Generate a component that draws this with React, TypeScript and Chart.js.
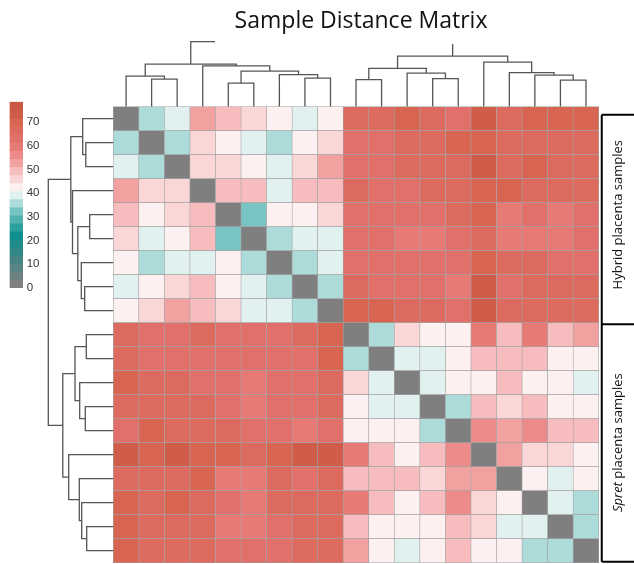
import { useEffect, useRef } from 'react';
import { Chart, registerables } from 'chart.js';

Chart.register(...registerables);

// ---------------- data ----------------
const TITLE = 'Sample Distance Matrix';
const groupLabels = ['Hybrid placenta samples', 'Spret placenta samples'];
const groupItalicPrefix = ['', 'Spret'];
const groupSizes = [9, 10];

// distances among hybrid samples (display order)
const hybridBlock = [
  [0, 36, 39, 53, 50, 46, 43, 39, 43],
  [36, 0, 36, 46, 43, 39, 36, 43, 46],
  [39, 36, 0, 46, 46, 43, 39, 46, 53],
  [53, 46, 46, 0, 50, 50, 39, 50, 50],
  [50, 43, 46, 50, 0, 32, 43, 43, 46],
  [46, 39, 43, 50, 32, 0, 36, 39, 39],
  [43, 36, 39, 39, 43, 36, 0, 36, 39],
  [39, 43, 46, 50, 43, 39, 36, 0, 36],
  [43, 46, 53, 50, 46, 39, 39, 36, 0],
];

// distances hybrid (rows) x spret (columns)
const crossBlock = [
  [66, 66, 70, 66, 63, 73, 66, 70, 70, 70],
  [63, 63, 66, 66, 70, 70, 66, 66, 66, 66],
  [63, 63, 66, 66, 66, 73, 66, 70, 66, 66],
  [66, 63, 63, 66, 66, 70, 70, 66, 66, 66],
  [63, 63, 63, 63, 66, 70, 60, 63, 60, 63],
  [63, 63, 60, 60, 63, 66, 60, 60, 60, 63],
  [63, 63, 63, 63, 63, 70, 66, 66, 63, 63],
  [66, 63, 63, 63, 60, 73, 63, 66, 66, 66],
  [70, 70, 66, 66, 63, 73, 66, 66, 66, 66],
];

// distances among spret samples
const spretBlock = [
  [0, 36, 46, 43, 43, 60, 50, 60, 50, 53],
  [36, 0, 39, 39, 43, 50, 50, 50, 43, 43],
  [46, 39, 0, 39, 43, 43, 50, 43, 43, 39],
  [43, 39, 39, 0, 36, 50, 46, 50, 43, 43],
  [43, 43, 43, 36, 0, 56, 53, 56, 50, 50],
  [60, 50, 43, 50, 56, 0, 53, 46, 46, 43],
  [50, 50, 50, 46, 53, 53, 0, 43, 39, 43],
  [60, 50, 43, 50, 56, 46, 43, 0, 39, 36],
  [50, 43, 43, 43, 50, 46, 39, 39, 0, 36],
  [53, 43, 39, 43, 50, 43, 43, 36, 36, 0],
];

// hierarchical clustering merges: [childA, childB, height]
// ids 0..18 = leaves in display order, 19+k = k-th merge
const treeMerges: [number, number, number][] = [
  [1, 2, 27.5],
  [0, 19, 30.6],
  [4, 5, 23.6],
  [7, 8, 28.6],
  [6, 22, 32],
  [21, 23, 35.5],
  [3, 24, 40.8],
  [20, 25, 42.5],
  [9, 10, 27],
  [12, 13, 28],
  [11, 28, 33.6],
  [27, 29, 38.3],
  [17, 18, 26.6],
  [16, 31, 31.6],
  [15, 32, 34],
  [14, 33, 44.6],
  [30, 34, 50.5],
  [26, 35, 65],
];

const legendTicks = [0, 10, 20, 30, 40, 50, 60, 70];
const legendMax = 78.5;
const palette = [
  '#7f7f7f', '#6c8181', '#5a8383', '#468383', '#318786', '#1d8c8a',
  '#10918f', '#2ba19f', '#51b2b0', '#78c4c2', '#acdbd9', '#e0f1f0',
  '#fdf0f0', '#fbd6d7', '#f7bcbd', '#f2a1a1', '#ed8b8a', '#e87a76',
  '#e2706a', '#dd6a5f', '#d86452', '#d05c4a', '#cb5845',
];

// ---------------- layout (pixels) ----------------
const W = 634;
const H = 564;
const HEAT_LEFT = 113.3;
const HEAT_TOP = 106.7;
const CELL_W = 25.55;
const CELL_H = 24;
const DEND_PX = 1;
const LEG_LEFT = 10;
const LEG_W = 12.7;
const LEG_ZERO = 287.7;
const LEG_PX = 2.363;
const COL_ROOT_STUB_END = 3.98;
const COL_ROOT_CUT = 2.3;

function buildMatrix(): number[][] {
  const nH = groupSizes[0];
  const n = groupSizes[0] + groupSizes[1];
  const m: number[][] = [];
  for (let r = 0; r < n; r++) {
    const row: number[] = [];
    for (let c = 0; c < n; c++) {
      let v: number;
      if (r < nH && c < nH) v = hybridBlock[r][c];
      else if (r < nH) v = crossBlock[r][c - nH];
      else if (c < nH) v = crossBlock[c][r - nH];
      else v = spretBlock[r - nH][c - nH];
      row.push(v);
    }
    m.push(row);
  }
  return m;
}

function colorFor(v: number) {
  const w = legendMax / palette.length;
  const i = Math.max(0, Math.min(palette.length - 1, Math.floor(v / w)));
  return palette[i];
}

function dendroPoints(n: number, horizontal: boolean, clipRoot: boolean) {
  const pos: number[] = [];
  const hgt: number[] = [];
  for (let i = 0; i < n; i++) {
    pos[i] = i + 0.5;
    hgt[i] = 0;
  }
  treeMerges.forEach(([a, b, h], k) => {
    pos[n + k] = (pos[a] + pos[b]) / 2;
    hgt[n + k] = h;
  });
  const P = (h: number, p: number) => (horizontal ? { x: h, y: p } : { x: p, y: h });
  const gap = { x: 0, y: null as any };
  const pts: any[] = [];
  treeMerges.forEach(([a, b, h], k) => {
    const isRoot = k === treeMerges.length - 1;
    if (clipRoot && isRoot) {
      pts.push(P(hgt[a], pos[a]), P(h, pos[a]), P(h, COL_ROOT_STUB_END), gap);
      pts.push(P(hgt[b], pos[b]), P(h - COL_ROOT_CUT, pos[b]), gap);
    } else {
      pts.push(P(hgt[a], pos[a]), P(h, pos[a]), P(h, pos[b]), P(hgt[b], pos[b]), gap);
    }
  });
  return pts;
}

const annotationPlugin = {
  id: 'heatAnnotations',
  afterDraw(chart: any) {
    const ctx = chart.ctx as CanvasRenderingContext2D;
    const { x, y, xLeg, yLeg } = chart.scales;
    const n = groupSizes[0] + groupSizes[1];
    ctx.save();
    // title
    ctx.fillStyle = '#111111';
    ctx.font = '23px "Open Sans"';
    ctx.textAlign = 'center';
    ctx.textBaseline = 'alphabetic';
    ctx.fillText(TITLE, x.getPixelForValue(n / 2) + 5, 28);

    // legend labels
    ctx.fillStyle = '#333333';
    ctx.font = '11.5px "Liberation Sans"';
    ctx.textAlign = 'left';
    ctx.textBaseline = 'middle';
    const lx = xLeg.getPixelForValue(0.5) + 4;
    legendTicks.forEach((t) => ctx.fillText(String(t), lx, yLeg.getPixelForValue(t)));

    // group brackets
    const bx = x.getPixelForValue(n) + 3;
    ctx.strokeStyle = '#000000';
    ctx.lineWidth = 2;
    const tops = [y.getPixelForValue(0) + 8, y.getPixelForValue(groupSizes[0]) + 1.5];
    const bottom = y.getPixelForValue(n) - 1;
    ctx.beginPath();
    ctx.moveTo(bx, tops[0]);
    ctx.lineTo(bx, bottom);
    tops.forEach((t) => {
      ctx.moveTo(bx, t);
      ctx.lineTo(W, t);
    });
    ctx.moveTo(bx, bottom);
    ctx.lineTo(W, bottom);
    ctx.stroke();

    // group labels
    ctx.fillStyle = '#111111';
    let start = 0;
    groupSizes.forEach((size, gi) => {
      const cy = y.getPixelForValue(start + size / 2);
      start += size;
      const label = groupLabels[gi];
      const pre = groupItalicPrefix[gi];
      const rest = label.slice(pre.length);
      ctx.save();
      ctx.translate(bx + 16.5, cy);
      ctx.rotate(-Math.PI / 2);
      ctx.textBaseline = 'middle';
      ctx.textAlign = 'left';
      ctx.font = 'italic 13px "Open Sans"';
      const wPre = pre ? ctx.measureText(pre).width : 0;
      ctx.font = '13px "Open Sans"';
      const wRest = ctx.measureText(rest).width;
      let sx = -(wPre + wRest) / 2;
      if (pre) {
        ctx.font = 'italic 13px "Open Sans"';
        ctx.fillText(pre, sx, 0);
        sx += wPre;
      }
      ctx.font = '13px "Open Sans"';
      ctx.fillText(rest, sx, 0);
      ctx.restore();
    });
    ctx.restore();
  },
};

export default function App() {
  const ref = useRef<HTMLCanvasElement>(null);
  useEffect(() => {
    if (!ref.current) return;
    const matrix = buildMatrix();
    const n = matrix.length;
    const cells: any[] = [];
    const cellColors: string[] = [];
    for (let r = 0; r < n; r++) {
      for (let c = 0; c < n; c++) {
        cells.push({ x: c + 0.5, y: [r, r + 1] });
        cellColors.push(colorFor(matrix[r][c]));
      }
    }
    const binW = legendMax / palette.length;
    const legendBars = palette.map((_, k) => ({ x: 0, y: [k * binW, (k + 1) * binW] }));

    const lineStyle = {
      type: 'line' as const,
      borderColor: '#555555',
      borderWidth: 1.3,
      pointRadius: 0,
      pointHoverRadius: 0,
      fill: false,
      tension: 0,
      spanGaps: false,
    };

    const chart = new Chart(ref.current, {
      type: 'bar',
      data: {
        datasets: [
          {
            type: 'bar',
            data: cells,
            backgroundColor: cellColors,
            borderColor: '#a3a3a3',
            borderWidth: 0.6,
            borderSkipped: false,
            barPercentage: 1,
            categoryPercentage: 1,
            grouped: false,
            xAxisID: 'x',
            yAxisID: 'y',
          } as any,
          {
            type: 'bar',
            data: legendBars,
            backgroundColor: palette,
            borderWidth: 0,
            barThickness: LEG_W,
            grouped: false,
            xAxisID: 'xLeg',
            yAxisID: 'yLeg',
          } as any,
          { ...lineStyle, data: dendroPoints(n, true, false), xAxisID: 'xRD', yAxisID: 'y' } as any,
          { ...lineStyle, data: dendroPoints(n, false, true), xAxisID: 'x', yAxisID: 'yCD' } as any,
        ],
      },
      options: {
        animation: false,
        responsive: false,
        devicePixelRatio: 1,
        events: [],
        layout: { padding: 0 },
        plugins: {
          legend: { display: false },
          title: { display: false },
          tooltip: { enabled: false },
        },
        scales: {
          x: {
            type: 'linear', display: false, offset: false,
            min: -HEAT_LEFT / CELL_W, max: (W - HEAT_LEFT) / CELL_W,
            ticks: { stepSize: 1, includeBounds: false },
          },
          y: {
            type: 'linear', display: false, reverse: true,
            min: -HEAT_TOP / CELL_H, max: (H - HEAT_TOP) / CELL_H,
          },
          xRD: {
            type: 'linear', display: false, reverse: true, offset: false,
            min: -(W - HEAT_LEFT) / DEND_PX, max: HEAT_LEFT / DEND_PX,
          },
          yCD: {
            type: 'linear', display: false,
            min: -(H - HEAT_TOP) / DEND_PX, max: HEAT_TOP / DEND_PX,
          },
          xLeg: {
            type: 'linear', display: false, offset: false,
            min: -(LEG_LEFT + LEG_W / 2) / LEG_W, max: (W - LEG_LEFT - LEG_W / 2) / LEG_W,
          },
          yLeg: {
            type: 'linear', display: false,
            min: -(H - LEG_ZERO) / LEG_PX, max: LEG_ZERO / LEG_PX,
          },
        } as any,
      },
      plugins: [annotationPlugin],
    });
    return () => chart.destroy();
  }, []);

  return (
    <div style={{ position: 'fixed', left: 0, top: 0, width: W, height: H, background: '#ffffff' }}>
      <canvas ref={ref} width={W} height={H} style={{ width: W, height: H, display: 'block' }} />
    </div>
  );
}
